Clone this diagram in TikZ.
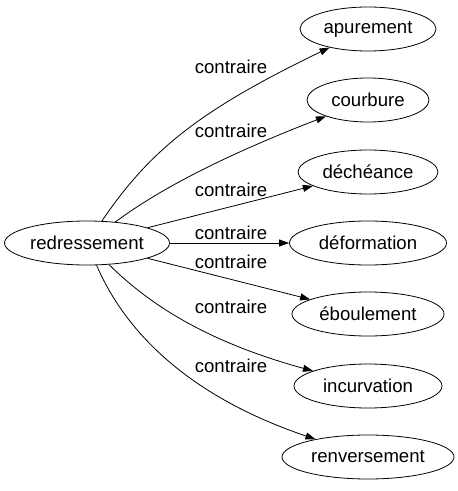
\documentclass[tikz,border=0pt]{standalone}
\usepackage{fontspec}
\setmainfont{Liberation Sans}
\usetikzlibrary{shapes.geometric,arrows.meta}
\tikzset{
  mot/.style={draw, ellipse, inner sep=0pt, minimum height=44bp, line width=0.8bp,
    font=\fontsize{18.6bp}{22bp}\selectfont},
  rel/.style={-{Triangle[length=10bp,width=7bp]}, line width=0.8bp},
  etiq/.style={inner sep=0pt, font=\fontsize{18.6bp}{22bp}\selectfont},
}

\begin{document}
\begin{tikzpicture}[x=1bp,y=-1bp]
				\useasboundingbox (0,0) rectangle (458,491);
				
				%%%%% mots %%%%%
				\node[mot, minimum width=165bp] (redressement) at (87,243) {redressement};
				\node[mot, minimum width=136bp] (apurement) at (368,29) {apurement};
				\node[mot, minimum width=122bp] (courbure) at (368,100) {courbure};
				\node[mot, minimum width=140bp] (decheance) at (368,172) {déchéance};
				\node[mot, minimum width=157bp] (deformation) at (368,243) {déformation};
				\node[mot, minimum width=152bp] (eboulement) at (368,314) {éboulement};
				\node[mot, minimum width=148bp] (incurvation) at (368,386) {incurvation};
				\node[mot, minimum width=172bp] (renversement) at (368,457) {renversement};
				
				%%%%% relations %%%%%
				\draw[rel] (redressement) .. controls (150,150) and (200,110) .. (apurement);
				\draw[rel] (redressement) .. controls (145,200) and (200,165) .. (courbure);
				\draw[rel] (redressement) -- (decheance);
				\draw[rel] (redressement) -- (deformation);
				\draw[rel] (redressement) -- (eboulement);
				\draw[rel] (redressement) .. controls (145,300) and (200,340) .. (incurvation);
				\draw[rel] (redressement) .. controls (118,315) and (170,390) .. (renversement);
				
				%%%%% etiquettes %%%%%
				\node[etiq] (c1) at (231,67) {contraire};
				\node[etiq] (c2) at (231,131) {contraire};
				\node[etiq] (c3) at (231,190) {contraire};
				\node[etiq] (c4) at (231,233) {contraire};
				\node[etiq] (c5) at (231,262) {contraire};
				\node[etiq] (c6) at (231,307) {contraire};
				\node[etiq] (c7) at (231,366) {contraire};
\end{tikzpicture}
\end{document}
